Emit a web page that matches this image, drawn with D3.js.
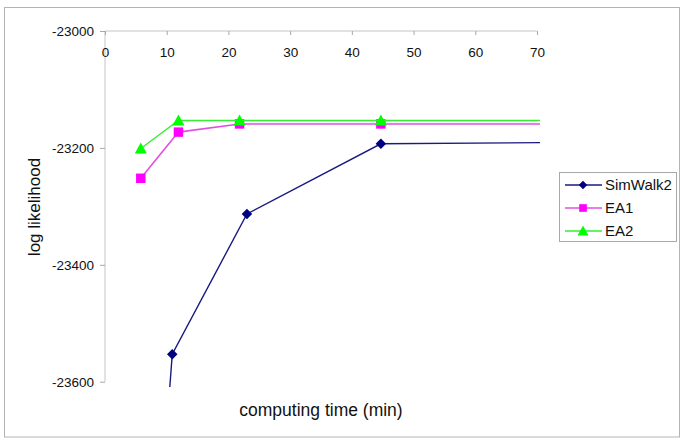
<!DOCTYPE html>
<html>
<head>
<meta charset="utf-8">
<script src="https://cdn.jsdelivr.net/npm/d3@7"></script>
<style>
  body { margin: 0; background: #fff; }
  svg { font-family: "Liberation Sans", Arial, sans-serif; }
</style>
</head>
<body>
<div id="chart"></div>
<script>
// values
const xTicks = [0, 10, 20, 30, 40, 50, 60, 70]
const yTicks = [-23000, -23200, -23400, -23600]

const simWalk2 = [
  { t: 10.5, ll: -23609 },
  { t: 10.9, ll: -23553 },
  { t: 23.0, ll: -23313 },
  { t: 44.7, ll: -23193 },
  { t: 70.5, ll: -23191 }
]
const ea1 = [
  { t: 5.8, ll: -23252 },
  { t: 11.9, ll: -23173 },
  { t: 21.8, ll: -23159 },
  { t: 44.7, ll: -23159 },
  { t: 70.5, ll: -23159 }
]
const ea2 = [
  { t: 5.8, ll: -23201 },
  { t: 11.9, ll: -23153 },
  { t: 21.8, ll: -23153 },
  { t: 44.7, ll: -23153 },
  { t: 70.5, ll: -23153 }
]

// the first SimWalk2 point is below the axis, no marker is drawn for it
const series = [
  { name: "SimWalk2", data: simWalk2, color: "#000080", lineColor: "#1a1a80", lw: 1.4, shape: "diamond", skipFirst: true },
  { name: "EA1", data: ea1, color: "#ff00ff", lineColor: "#e050e0", lw: 1.6, shape: "square" },
  { name: "EA2", data: ea2, color: "#00ff00", lineColor: "#33ee33", lw: 1.4, shape: "triangle" }
]

const width = 685, height = 442
const margin = { top: 31, left: 105 }
const plotRight = 537, plotBottom = 381.7

const x = d3.scaleLinear().domain([0, 70]).range([margin.left, plotRight])
const y = d3.scaleLinear().domain([-23600, -23000]).range([plotBottom, margin.top])

function markerPath(shape, s) {
  if (shape === "diamond") {
    const h = s / 2
    return `M0,${-h}L${h},0L0,${h}L${-h},0Z`
  }
  if (shape === "square") {
    const h = s * 0.45
    return `M${-h},${-h}H${h}V${h}H${-h}Z`
  }
  // triangle
  const w = s * 0.55, h = s * 0.45
  return `M0,${-h - 1}L${w},${h}L${-w},${h}Z`
}

const svg = d3.select("#chart").append("svg")
  .attr("width", width)
  .attr("height", height)

// outer frame
svg.append("rect")
  .attr("x", 4.5).attr("y", 7.5)
  .attr("width", 675).attr("height", 429.5)
  .attr("fill", "white")
  .attr("stroke", "#b4b4b4")

// y axis
const yAxis = svg.append("g")
  .attr("transform", `translate(${margin.left},0)`)
  .call(d3.axisLeft(y).tickValues(yTicks).tickSize(5).tickPadding(6).tickFormat(d => d))
yAxis.select(".domain").attr("stroke", "#c4c4c4").attr("d", `M0,${margin.top}V${plotBottom}`)
yAxis.selectAll(".tick line").attr("stroke", "#a8a8a8")
yAxis.selectAll(".tick text").attr("fill", "#111").style("font-size", "13.5px")

// x axis sits at the top (axis crosses at -23000), labels below it
const xAxis = svg.append("g")
  .attr("transform", `translate(0,${margin.top})`)
  .call(d3.axisBottom(x).tickValues(xTicks).tickSize(4).tickPadding(12))
xAxis.select(".domain").attr("stroke", "#c4c4c4").attr("d", `M${margin.left},0H${plotRight}`)
xAxis.selectAll(".tick line").attr("stroke", "#a8a8a8")
xAxis.selectAll(".tick text").attr("fill", "#111").style("font-size", "13.5px")

// axis titles
svg.append("text")
  .attr("transform", "translate(40,207) rotate(-90)")
  .attr("text-anchor", "middle")
  .style("font-size", "17px")
  .attr("fill", "#111")
  .text("log likelihood")

svg.append("text")
  .attr("x", 321).attr("y", 416)
  .attr("text-anchor", "middle")
  .style("font-size", "17.5px")
  .attr("fill", "#111")
  .text("computing time (min)")

const line = d3.line().x(d => x(d.t)).y(d => y(d.ll))

series.forEach(s => {
  svg.append("path")
    .datum(s.data)
    .attr("d", line)
    .attr("fill", "none")
    .attr("stroke", s.lineColor)
    .attr("stroke-width", s.lw)

  svg.append("g")
    .selectAll("path")
    .data(s.skipFirst ? s.data.slice(1, -1) : s.data.slice(0, -1))
    .join("path")
    .attr("transform", d => `translate(${x(d.t)},${y(d.ll)})`)
    .attr("d", markerPath(s.shape, s.shape === "diamond" ? 10.5 : s.shape === "square" ? 10.5 : 11))
    .attr("fill", s.color)
})

// legend
const legend = svg.append("g")
legend.append("rect")
  .attr("x", 559.5).attr("y", 172.5)
  .attr("width", 117).attr("height", 69)
  .attr("fill", "white")
  .attr("stroke", "#a8a8a8")

series.forEach((s, i) => {
  const ly = 185 + i * 23
  legend.append("line")
    .attr("x1", 565).attr("x2", 602)
    .attr("y1", ly).attr("y2", ly)
    .attr("stroke", s.lineColor)
    .attr("stroke-width", s.lw)
  legend.append("path")
    .attr("transform", `translate(583,${ly})`)
    .attr("d", markerPath(s.shape, s.shape === "triangle" ? 10 : 8.5))
    .attr("fill", s.color)
  legend.append("text")
    .attr("x", 605).attr("y", ly + 5)
    .style("font-size", "15px")
    .attr("fill", "#111")
    .text(s.name)
})
</script>
</body>
</html>
